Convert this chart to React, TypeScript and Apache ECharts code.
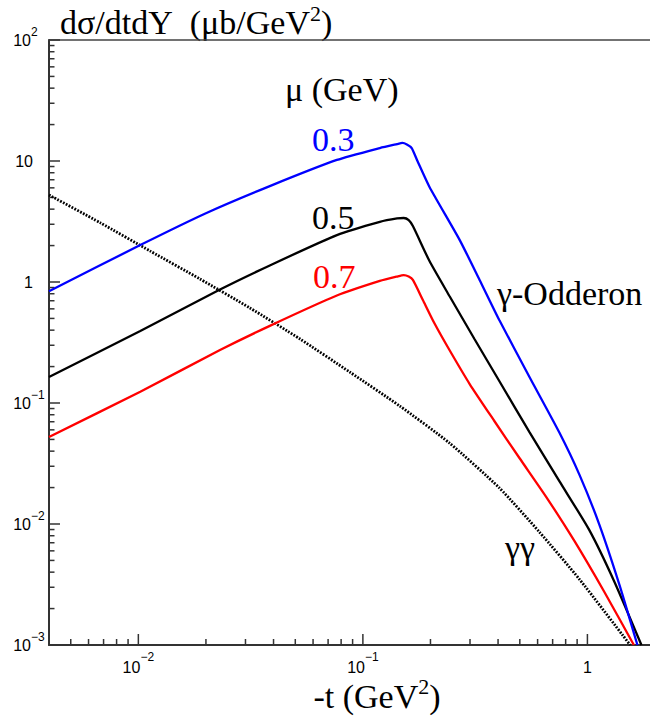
import React, { useEffect, useRef } from 'react';
import * as echarts from 'echarts';

const SERIF = '"Liberation Serif", "Times New Roman", serif';
const SANS = '"Liberation Sans", Arial, sans-serif';
const AXIS = '#333333';

const X_MIN = 0.004;
const X_MAX = 1.9;
const Y_MIN = 0.001;
const Y_MAX = 100;

// mu = 0.3 GeV (blue)
const blueT = [0.004, 0.0102, 0.02, 0.0385, 0.0766, 0.119, 0.142, 0.15, 0.157, 0.165, 0.175, 0.198, 0.27, 0.331, 0.405, 0.552, 0.75, 0.921, 1.13, 1.39, 1.67];
const blueY = [0.84, 2.02, 3.7, 6.2, 10.2, 12.8, 13.8, 14.1, 13.7, 12.8, 10.0, 6.1, 2.22, 1.04, 0.485, 0.164, 0.057, 0.0256, 0.0099, 0.00313, 0.001];
// mu = 0.5 GeV (black)
const blackT = [0.004, 0.0102, 0.0231, 0.0385, 0.0766, 0.119, 0.142, 0.152, 0.16, 0.167, 0.198, 0.243, 0.314, 0.405, 0.552, 0.75, 1.02, 1.32, 1.74];
const blackY = [0.164, 0.394, 0.867, 1.37, 2.44, 3.14, 3.35, 3.38, 3.25, 2.9, 1.49, 0.766, 0.338, 0.152, 0.0575, 0.0226, 0.0089, 0.00332, 0.001];
// mu = 0.7 GeV (red)
const redT = [0.004, 0.0102, 0.0231, 0.0385, 0.0766, 0.119, 0.142, 0.152, 0.16, 0.167, 0.185, 0.208, 0.243, 0.299, 0.385, 0.498, 0.656, 0.875, 1.19, 1.61];
const redY = [0.0524, 0.124, 0.274, 0.434, 0.773, 1.02, 1.11, 1.14, 1.11, 1.04, 0.71, 0.458, 0.274, 0.1435, 0.071, 0.0351, 0.0167, 0.00724, 0.00274, 0.001];
// gamma-gamma (dotted)
const ggT = [0.004, 0.00678, 0.0113, 0.0188, 0.0314, 0.0525, 0.0875, 0.146, 0.243, 0.405, 0.611, 0.92, 1.55];
const ggY = [5.24, 3.08, 1.8, 1.06, 0.61, 0.338, 0.18, 0.0944, 0.0467, 0.0199, 0.00859, 0.00351, 0.001];

const xMajorTicks = [0.01, 0.1, 1];
const xMajorBase = ['10', '10', '1'];
const xMajorExp = ['\u22122', '\u22121', ''];
const xMinorTicks = [0.005, 0.006, 0.007, 0.008, 0.009, 0.02, 0.03, 0.04, 0.05, 0.06, 0.07, 0.08, 0.09, 0.2, 0.3, 0.4, 0.5, 0.6, 0.7, 0.8, 0.9];

const yMajorTicks = [0.001, 0.01, 0.1, 1, 10, 100];
const yMajorBase = ['10', '10', '10', '1', '10', '10'];
const yMajorExp = ['\u22123', '\u22122', '\u22121', '', '', '2'];
const yMinorMultipliers = [2, 3, 4, 5, 6, 7, 8, 9];
const yDecades = [0.001, 0.01, 0.1, 1, 10];

const zip = (a: number[], b: number[]) => a.map((v, i) => [v, b[i]]);

let ctx2d: CanvasRenderingContext2D | null = null;
function measure(text: string, size: number, family: string): number {
  if (!ctx2d) ctx2d = document.createElement('canvas').getContext('2d');
  ctx2d!.font = `${size}px ${family}`;
  return ctx2d!.measureText(text).width;
}

export default function App() {
  const ref = useRef<HTMLDivElement>(null);

  useEffect(() => {
    document.body.style.margin = '0';
    const chart = echarts.init(ref.current!, null, { renderer: 'svg' });

    const yMinorTicks: number[] = [];
    yDecades.forEach((d) => yMinorMultipliers.forEach((k) => yMinorTicks.push(Number((k * d).toPrecision(3)))));

    const xTickData = [
      ...xMajorTicks.map((v, i) => [v, Y_MIN, 1, i]),
      ...xMinorTicks.map((v) => [v, Y_MIN, 0, -1]),
    ];
    const yTickData = [
      ...yMajorTicks.map((v, i) => [X_MIN, v, 1, i]),
      ...yMinorTicks.map((v) => [X_MIN, v, 0, -1]),
    ];

    const txt = (text: string, x: number, y: number, size: number, family: string, fill = '#000', align = 'left') => ({
      type: 'text',
      x,
      y,
      silent: true,
      style: { text, fill, fontSize: size, fontFamily: family, align, verticalAlign: 'middle' },
    });

    const TS = 34;
    const SS = 22;
    // Title pieces
    const t1 = 'd\u03c3/dtdY';
    const t2 = '(\u03bcb/GeV';
    const tx = 60;
    const w1 = measure(t1, TS, SERIF);
    const wsp = measure(' ', TS, SERIF);
    const tx2 = tx + w1 + 2 * wsp;
    const w2 = measure(t2, TS, SERIF);
    const w2s = measure('2', SS, SERIF);

    // x-axis title pieces
    const a1 = '-t (GeV';
    const wa1 = measure(a1, TS, SERIF);
    const wa3 = measure(')', TS, SERIF);
    const totalA = wa1 + w2s + wa3;
    const ax = 377 - totalA / 2;

    const graphics: any[] = [
      txt(t1, tx, 22, TS, SERIF),
      txt(t2, tx2, 22, TS, SERIF),
      txt('2', tx2 + w2, 13, SS, SERIF),
      txt(')', tx2 + w2 + w2s, 22, TS, SERIF),
      txt(a1, ax, 696, TS, SERIF),
      txt('2', ax + wa1, 686, SS, SERIF),
      txt(')', ax + wa1 + w2s, 696, TS, SERIF),
      txt('\u03bc (GeV)', 285, 89, TS, SERIF),
      txt('0.3', 312, 139, TS, SERIF, '#0000ff'),
      txt('0.5', 312, 217, TS, SERIF, '#000000'),
      txt('0.7', 313, 276, TS, SERIF, '#ff0000'),
      txt('\u03b3-Odderon', 497, 293, TS, SERIF),
      txt('\u03b3\u03b3', 505, 547, TS, SERIF),
    ];

    const lineSeries = (name: string, t: number[], y: number[], color: string, dashed = false) => ({
      name,
      type: 'line',
      data: zip(t, y),
      showSymbol: false,
      symbol: 'none',
      smooth: 0.2,
      clip: true,
      silent: true,
      lineStyle: { color, width: dashed ? 2.8 : 2.3, type: dashed ? [1.8, 1.4] : 'solid', cap: 'butt' },
      z: dashed ? 2 : 3,
    });

    const axisBase = {
      type: 'log',
      logBase: 10,
      axisTick: { show: false },
      axisLabel: { show: false },
      splitLine: { show: false },
      minorTick: { show: false },
      minorSplitLine: { show: false },
    };

    chart.setOption({
      animation: false,
      grid: { left: 49, right: 0, top: 40, bottom: 72, containLabel: false },
      xAxis: [
        { ...axisBase, min: X_MIN, max: X_MAX, position: 'bottom', axisLine: { show: true, onZero: false, lineStyle: { color: AXIS, width: 2 } } },
        { ...axisBase, min: X_MIN, max: X_MAX, position: 'top', axisLine: { show: true, onZero: false, lineStyle: { color: '#444', width: 1.5 } } },
      ],
      yAxis: [
        { ...axisBase, min: Y_MIN, max: Y_MAX, position: 'left', axisLine: { show: true, onZero: false, lineStyle: { color: AXIS, width: 2 } } },
      ],
      graphic: graphics,
      series: [
        lineSeries('gg', ggT, ggY, '#000000', true),
        lineSeries('mu07', redT, redY, '#ff0000'),
        lineSeries('mu05', blackT, blackY, '#000000'),
        lineSeries('mu03', blueT, blueY, '#0000ff'),
        {
          type: 'custom',
          xAxisIndex: 0,
          yAxisIndex: 0,
          silent: true,
          clip: false,
          data: xTickData,
          encode: { x: 0, y: 1 },
          renderItem: (params: any, api: any) => {
            const v = api.value(0);
            const major = api.value(2) === 1;
            const idx = api.value(3);
            const p = api.coord([v, Y_MIN]);
            const children: any[] = [
              { type: 'line', shape: { x1: p[0], y1: p[1], x2: p[0], y2: p[1] - (major ? 11 : 6) }, style: { stroke: AXIS, lineWidth: 1.5 } },
            ];
            if (major) {
              const b = xMajorBase[idx];
              const e = xMajorExp[idx];
              const wb = measure(b, 16, SANS);
              const we = e ? measure(e, 12, SANS) : 0;
              const x0 = p[0] - (wb + we) / 2;
              children.push({ type: 'text', x: x0, y: p[1] + 22, style: { text: b, fill: '#000', fontSize: 16, fontFamily: SANS, align: 'left', verticalAlign: 'middle' } });
              if (e) children.push({ type: 'text', x: x0 + wb, y: p[1] + 12, style: { text: e, fill: '#000', fontSize: 12, fontFamily: SANS, align: 'left', verticalAlign: 'middle' } });
            }
            return { type: 'group', children };
          },
        },
        {
          type: 'custom',
          xAxisIndex: 0,
          yAxisIndex: 0,
          silent: true,
          clip: false,
          data: yTickData,
          encode: { x: 0, y: 1 },
          renderItem: (params: any, api: any) => {
            const v = api.value(1);
            const major = api.value(2) === 1;
            const idx = api.value(3);
            const p = api.coord([X_MIN, v]);
            const children: any[] = [
              { type: 'line', shape: { x1: p[0], y1: p[1], x2: p[0] + (major ? 11 : 5.5), y2: p[1] }, style: { stroke: AXIS, lineWidth: 1.5 } },
            ];
            if (major) {
              const b = yMajorBase[idx];
              const e = yMajorExp[idx];
              if (e) {
                children.push({ type: 'text', x: 31, y: p[1], style: { text: b, fill: '#000', fontSize: 16, fontFamily: SANS, align: 'right', verticalAlign: 'middle' } });
                children.push({ type: 'text', x: 31, y: p[1] - 8, style: { text: e, fill: '#000', fontSize: 12, fontFamily: SANS, align: 'left', verticalAlign: 'middle' } });
              } else {
                children.push({ type: 'text', x: 33, y: p[1], style: { text: b, fill: '#000', fontSize: 16, fontFamily: SANS, align: 'right', verticalAlign: 'middle' } });
              }
            }
            return { type: 'group', children };
          },
        },
      ],
    });

    return () => chart.dispose();
  }, []);

  return <div ref={ref} style={{ width: 650, height: 717 }} />;
}
